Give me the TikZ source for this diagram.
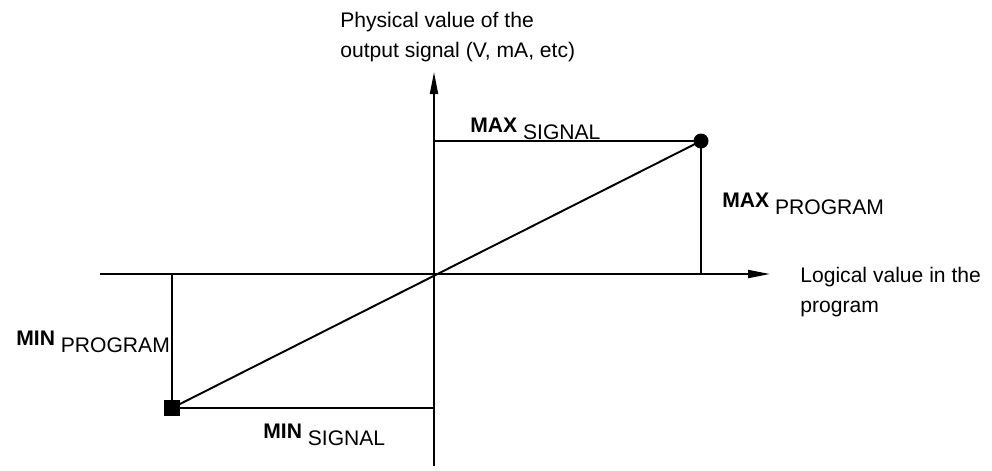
\documentclass[tikz,border=0pt]{standalone}
\usepackage{fontspec}
\setmainfont{Liberation Sans}
\usetikzlibrary{positioning,arrows.meta}
\tikzset{
  axis/.style={-{Triangle[length=4.4mm,width=1.6mm]},line width=1.1pt},
  trace/.style={line width=1.1pt},
  txt/.style={inner sep=0pt,align=left,font=\fontsize{12}{17}\selectfont},
}
\newcommand{\sublbl}[2]{{\bfseries #1} \raisebox{-4pt}{#2}}
\begin{document}
\begin{tikzpicture}
\useasboundingbox (-8.68,-3.92) rectangle (11.16,5.48);
\coordinate (o) at (0,0);
\coordinate (xl) at (-6.68,0); \coordinate (xr) at (6.72,0);
\coordinate (yb) at (0,-3.84); \coordinate (yt) at (0,4.04);
\node[circle,fill,inner sep=0pt,minimum size=0.3cm] (pmax) at (5.34,2.66) {};
\node[rectangle,fill,inner sep=0pt,minimum size=0.32cm] (pmin) at (-5.24,-2.68) {};
\draw[axis] (xl) -- (xr);
\draw[axis] (yb) -- (yt);
\draw[trace] (pmin.center) -- (pmax.center);
\draw[trace] (o |- pmax) -- (pmax.center) -- (pmax |- o);
\draw[trace] (pmin |- o) -- (pmin.center) -- (o |- pmin);
\node[txt,anchor=base west] (maxsig) at (0.72,2.84) {\sublbl{MAX}{SIGNAL}};
\node[txt,anchor=base west] (maxprg) at (5.76,1.34) {\sublbl{MAX}{PROGRAM}};
\node[txt,anchor=base west] (minprg) at (-8.36,-1.42) {\sublbl{MIN}{PROGRAM}};
\node[txt,anchor=base west] (minsig) at (-3.42,-3.28) {\sublbl{MIN}{SIGNAL}};
\node[txt,anchor=north west] (ylbl) at (-1.88,5.24) {Physical value of the\\output signal (V, mA, etc)};
\node[txt,anchor=north west] (xlbl) at (7.32,0.14) {Logical value in the\\program};
\end{tikzpicture}
\end{document}
